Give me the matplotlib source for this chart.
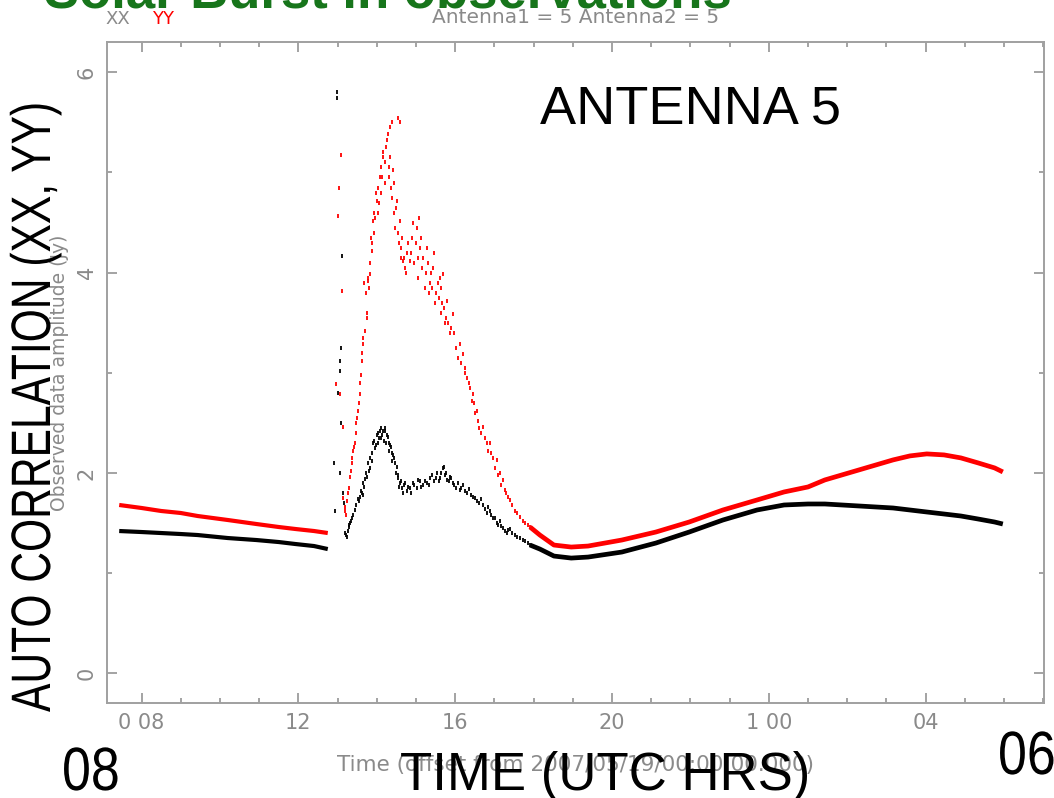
import matplotlib
matplotlib.use("Agg")
import matplotlib.pyplot as plt
from matplotlib.patheffects import AbstractPathEffect
from matplotlib.ticker import FixedLocator, MultipleLocator
from matplotlib.transforms import Affine2D

# Auto-correlation amplitude of antenna 5 (hours from 2007/05/19 00:00 UTC)
# quiet stretch before the burst
pre_time = [7.43, 8.0, 8.5, 9.0, 9.43, 10.2, 10.93, 11.5, 11.93, 12.4, 12.75]
pre_xx = [1.42, 1.41, 1.40, 1.39, 1.38, 1.35, 1.33, 1.31, 1.29, 1.27, 1.24]
pre_yy = [1.68, 1.65, 1.62, 1.60, 1.57, 1.53, 1.49, 1.46, 1.44, 1.42, 1.40]

# burst samples (scattered points), first pass
burst_time_yy = [12.96, 13.01, 13.03, 13.05, 13.08, 13.11, 13.13, 13.15, 13.19, 13.22,
                 13.26, 13.31, 13.36, 13.40, 13.44, 13.48, 13.52, 13.57, 13.60, 13.62,
                 13.64, 13.70, 13.75, 13.77, 13.80, 13.82, 13.87, 13.90, 13.94, 14.00,
                 14.04, 14.08, 14.12, 14.15, 14.20, 14.26, 14.30, 14.33, 14.36, 14.39,
                 14.41, 14.45, 14.51, 14.54, 14.56, 14.59, 14.63, 14.67, 14.72, 14.78,
                 14.84, 14.90, 14.96, 15.02, 15.06, 15.10, 15.16, 15.22, 15.28, 15.34,
                 15.38, 15.43, 15.48, 15.55, 15.61, 15.65, 15.69, 15.74, 15.79, 15.86,
                 15.94, 16.02, 16.12, 16.20, 16.25, 16.30, 16.38, 16.45, 16.50, 16.55,
                 16.62, 16.71, 16.80, 16.88, 16.96, 17.06, 17.14, 17.22, 17.30, 17.40,
                 17.52, 17.65, 17.78, 17.91]
burst_yy = [2.89, 4.57, 4.85, 2.79, 5.17, 3.82, 2.46, 1.75, 1.66, 1.58,
            1.80, 1.96, 2.10, 2.22, 2.30, 2.50, 2.62, 2.79, 2.98, 3.12,
            3.29, 3.42, 3.55, 3.92, 3.85, 3.99, 4.22, 4.52, 4.40, 4.72,
            4.60, 4.95, 4.80, 5.15, 4.90, 5.32, 5.05, 5.45, 4.85, 5.50,
            5.02, 4.60, 4.72, 5.54, 4.30, 4.52, 4.15, 4.12, 4.05, 4.20,
            4.12, 4.35, 4.10, 4.45, 3.95, 4.25, 4.05, 3.85, 4.25, 3.80,
            4.00, 4.05, 3.70, 3.90, 3.95, 3.60, 3.99, 3.50, 3.72, 3.40,
            3.59, 3.25, 3.29, 3.19, 3.00, 2.95, 2.85, 2.79, 2.60, 2.62,
            2.45, 2.46, 2.30, 2.30, 2.15, 2.13, 2.00, 1.93, 1.80, 1.73,
            1.62, 1.56, 1.50, 1.46]

burst_time_xx = [12.92, 12.94, 12.98, 12.98, 13.02, 13.06, 13.06, 13.08, 13.10, 13.11,
                 13.06, 13.14, 13.17, 13.20, 13.24, 13.28, 13.31, 13.36, 13.44, 13.52,
                 13.57, 13.62, 13.66, 13.70, 13.75, 13.77, 13.82, 13.87, 13.90, 13.95,
                 14.00, 14.04, 14.08, 14.12, 14.15, 14.20, 14.26, 14.30, 14.33, 14.38,
                 14.41, 14.46, 14.51, 14.55, 14.59, 14.64, 14.70, 14.76, 14.84, 14.92,
                 15.02, 15.10, 15.18, 15.28, 15.36, 15.45, 15.54, 15.61, 15.68, 15.74,
                 15.79, 15.86, 15.94, 16.02, 16.12, 16.20, 16.30, 16.40, 16.50, 16.60,
                 16.71, 16.80, 16.88, 16.96, 17.06, 17.14, 17.22, 17.32, 17.40, 17.52,
                 17.65, 17.78, 17.91]
burst_xx = [2.10, 1.62, 5.80, 5.74, 2.80, 3.02, 3.12, 3.25, 2.50, 4.17,
            2.00, 1.80, 1.70, 1.40, 1.36, 1.46, 1.50, 1.55, 1.63, 1.74,
            1.76, 1.80, 1.90, 1.94, 1.96, 2.10, 2.05, 2.20, 2.30, 2.25,
            2.38, 2.30, 2.42, 2.35, 2.42, 2.45, 2.38, 2.30, 2.28, 2.20,
            2.18, 2.10, 2.06, 1.95, 1.90, 1.85, 1.88, 1.82, 1.85, 1.90,
            1.85, 1.92, 1.88, 1.90, 1.95, 1.92, 2.00, 1.95, 2.05, 1.98,
            1.93, 1.96, 1.90, 1.85, 1.83, 1.88, 1.80, 1.78, 1.75, 1.70,
            1.68, 1.60, 1.62, 1.55, 1.50, 1.52, 1.45, 1.40, 1.44, 1.38,
            1.35, 1.32, 1.28]

# burst samples, second pass filling the dense parts of the cloud
fill_time_yy = [13.20, 13.24, 13.28, 13.33, 13.38, 13.42, 13.46, 13.50, 13.55, 13.58,
                13.63, 13.66, 13.68, 13.72, 13.74, 13.78, 13.84, 13.86, 13.88, 13.92,
                13.96, 13.98, 14.02, 14.06, 14.10, 14.14, 14.17, 14.22, 14.24, 14.28,
                14.32, 14.35, 14.38, 14.43, 14.47, 14.49, 14.53, 14.58, 14.61, 14.65,
                14.70, 14.75, 14.80, 14.87, 14.93, 14.99, 15.04, 15.08, 15.13, 15.19,
                15.25, 15.31, 15.36, 15.41, 15.46, 15.51, 15.58, 15.63, 15.67, 15.72,
                15.77, 15.82, 15.90, 15.98, 16.06, 16.16, 16.24, 16.34, 16.42, 16.48,
                16.58, 16.66, 16.75, 16.84, 16.92, 17.01, 17.10, 17.18, 17.26, 17.35,
                17.46, 17.58, 17.72, 17.85]
fill_yy = [1.62, 1.72, 1.85, 2.02, 2.15, 2.26, 2.40, 2.55, 2.70, 2.90,
           3.20, 3.35, 3.90, 3.80, 3.60, 3.95, 4.10, 4.35, 4.30, 4.60,
           4.55, 4.80, 4.85, 4.70, 5.05, 4.95, 5.20, 5.10, 5.25, 5.38,
           4.95, 5.15, 4.75, 4.90, 4.45, 4.65, 4.40, 5.50, 4.25, 4.35,
           4.15, 4.00, 4.30, 4.20, 4.50, 4.30, 4.15, 4.55, 4.35, 4.15,
           4.00, 4.10, 3.90, 3.85, 4.20, 3.80, 3.75, 3.85, 3.70, 3.65,
           3.55, 3.50, 3.45, 3.40, 3.15, 3.10, 3.05, 2.90, 2.72, 2.70,
           2.52, 2.40, 2.35, 2.22, 2.20, 2.05, 1.98, 1.88, 1.83, 1.76,
           1.68, 1.60, 1.52, 1.48]

fill_time_xx = [13.22, 13.26, 13.30, 13.34, 13.40, 13.48, 13.55, 13.60, 13.64, 13.68,
                13.72, 13.79, 13.84, 13.88, 13.92, 13.97, 14.02, 14.06, 14.10, 14.14,
                14.18, 14.22, 14.24, 14.28, 14.32, 14.36, 14.40, 14.44, 14.48, 14.53,
                14.57, 14.62, 14.67, 14.73, 14.80, 14.88, 14.96, 15.05, 15.14, 15.23,
                15.32, 15.40, 15.50, 15.58, 15.65, 15.71, 15.77, 15.83, 15.90, 15.98,
                16.06, 16.16, 16.25, 16.35, 16.45, 16.55, 16.65, 16.76, 16.84, 16.92,
                17.01, 17.10, 17.18, 17.27, 17.36, 17.46, 17.58, 17.72, 17.85]
fill_xx = [1.38, 1.42, 1.48, 1.52, 1.58, 1.68, 1.72, 1.82, 1.78, 1.86,
           2.00, 2.02, 2.15, 2.12, 2.32, 2.28, 2.40, 2.35, 2.45, 2.38,
           2.32, 2.42, 2.30, 2.36, 2.22, 2.26, 2.12, 2.15, 2.00, 1.98,
           1.86, 1.92, 1.80, 1.90, 1.86, 1.80, 1.88, 1.93, 1.86, 1.92,
           1.88, 1.98, 1.95, 1.92, 2.00, 2.06, 2.00, 1.92, 1.95, 1.88,
           1.90, 1.85, 1.82, 1.84, 1.76, 1.72, 1.74, 1.64, 1.66, 1.58,
           1.55, 1.48, 1.47, 1.42, 1.43, 1.40, 1.36, 1.33, 1.30]

# recovery after the burst through to 06 UTC next day
post_time = [17.91, 18.16, 18.52, 18.96, 19.39, 20.25, 21.12, 21.97, 22.83, 23.70,
             24.39, 25.00, 25.43, 26.30, 27.17, 27.60, 28.03, 28.47, 28.90, 29.34,
             29.76, 29.97]
post_xx = [1.28, 1.24, 1.17, 1.15, 1.16, 1.21, 1.30, 1.41, 1.53, 1.63,
           1.68, 1.69, 1.69, 1.67, 1.65, 1.63, 1.61, 1.59, 1.57, 1.54,
           1.51, 1.49]
post_yy = [1.46, 1.38, 1.28, 1.26, 1.27, 1.33, 1.41, 1.51, 1.63, 1.73,
           1.81, 1.86, 1.93, 2.03, 2.13, 2.17, 2.19, 2.18, 2.15, 2.10,
           2.05, 2.01]

hour_ticks = [8, 12, 16, 20, 24, 28]
hour_labels = ["0 08", "12", "16", "20", "1 00", "04"]
amp_ticks = [0, 2, 4, 6]


class Squeeze(AbstractPathEffect):
    """Draw text narrower than the font's natural width."""

    def __init__(self, sx):
        super().__init__()
        self.sx = sx

    def draw_path(self, renderer, gc, tpath, affine, rgbFace=None):
        renderer.draw_path(gc, tpath, Affine2D().scale(self.sx, 1.0) + affine, rgbFace)


grey = "#8a8a8a"
sans = "Liberation Sans"

fig = plt.figure(figsize=(10.54, 7.98), dpi=100)
ax = fig.add_axes([0.1012, 0.1187, 0.8893, 0.8283])

ax.plot(pre_time, pre_xx, color="black", lw=3, solid_capstyle="butt")
ax.plot(pre_time, pre_yy, color="red", lw=3, solid_capstyle="butt")
for t, v, c in [(burst_time_xx, burst_xx, "black"), (fill_time_xx, fill_xx, "black"),
                (burst_time_yy, burst_yy, "red"), (fill_time_yy, fill_yy, "red")]:
    ax.plot(t, v, ls="none", marker="|", ms=3.3, mew=1.3, color=c)
ax.plot(post_time, post_xx, color="black", lw=3.4, solid_capstyle="butt")
ax.plot(post_time, post_yy, color="red", lw=3.4, solid_capstyle="butt")

ax.set_xlim(7.11, 31.02)
ax.set_ylim(-0.3, 6.3)
ax.xaxis.set_major_locator(FixedLocator(hour_ticks))
ax.set_xticklabels(hour_labels)
ax.xaxis.set_minor_locator(MultipleLocator(1))
ax.yaxis.set_major_locator(FixedLocator(amp_ticks))
ax.yaxis.set_minor_locator(MultipleLocator(1))
for lab in ax.get_yticklabels():
    lab.set_rotation(90)
    lab.set_va("center")

ax.tick_params(which="both", direction="in", top=True, right=True,
               color=grey, labelcolor=grey, labelsize=15, width=1.1)
ax.tick_params(which="major", length=7, pad=7)
ax.tick_params(which="minor", length=3.5)
for sp in ax.spines.values():
    sp.set_color("#a0a0a0")
    sp.set_linewidth(1.4)

ax.set_xlabel("Time (offset from 2007/05/19/00:00:00.000)", color=grey,
              fontsize=15.5, labelpad=16)
ax.set_ylabel("Observed data amplitude (Jy)", color=grey, fontsize=13.5, labelpad=6)
ax.set_title("Antenna1 = 5 Antenna2 = 5", color=grey, fontsize=14.5, pad=14)
fig.text(105 / 1054, 1 - 24 / 798, "XX", color=grey, fontsize=13)
fig.text(152 / 1054, 1 - 24 / 798, "YY", color="red", fontsize=13)

# slide annotations
fig.text(44 / 1054, 1 - 8 / 798, "Solar Burst in observations", color="#17751b",
         fontsize=38, fontweight="bold", family=sans, va="baseline")
fig.text(540 / 1054, 1 - 124 / 798, "ANTENNA 5", color="black", fontsize=39,
         family=sans, va="baseline")
fig.text(50 / 1054, 1 - 712 / 798, "AUTO CORRELATION (XX, YY)", color="black",
         fontsize=40, family=sans, rotation=90, rotation_mode="anchor",
         ha="left", va="baseline", path_effects=[Squeeze(0.766)])
fig.text(62 / 1054, 1 - 790 / 798, "08", color="black", fontsize=44, family=sans,
         va="baseline", path_effects=[Squeeze(0.85)])
fig.text(998 / 1054, 1 - 774 / 798, "06", color="black", fontsize=44, family=sans,
         va="baseline", path_effects=[Squeeze(0.85)])
fig.text(605 / 1054, 1 - 790 / 798, "TIME (UTC HRS)", color="black", fontsize=38,
         family=sans, ha="center", va="baseline")

fig.savefig("out.png", dpi=100)
